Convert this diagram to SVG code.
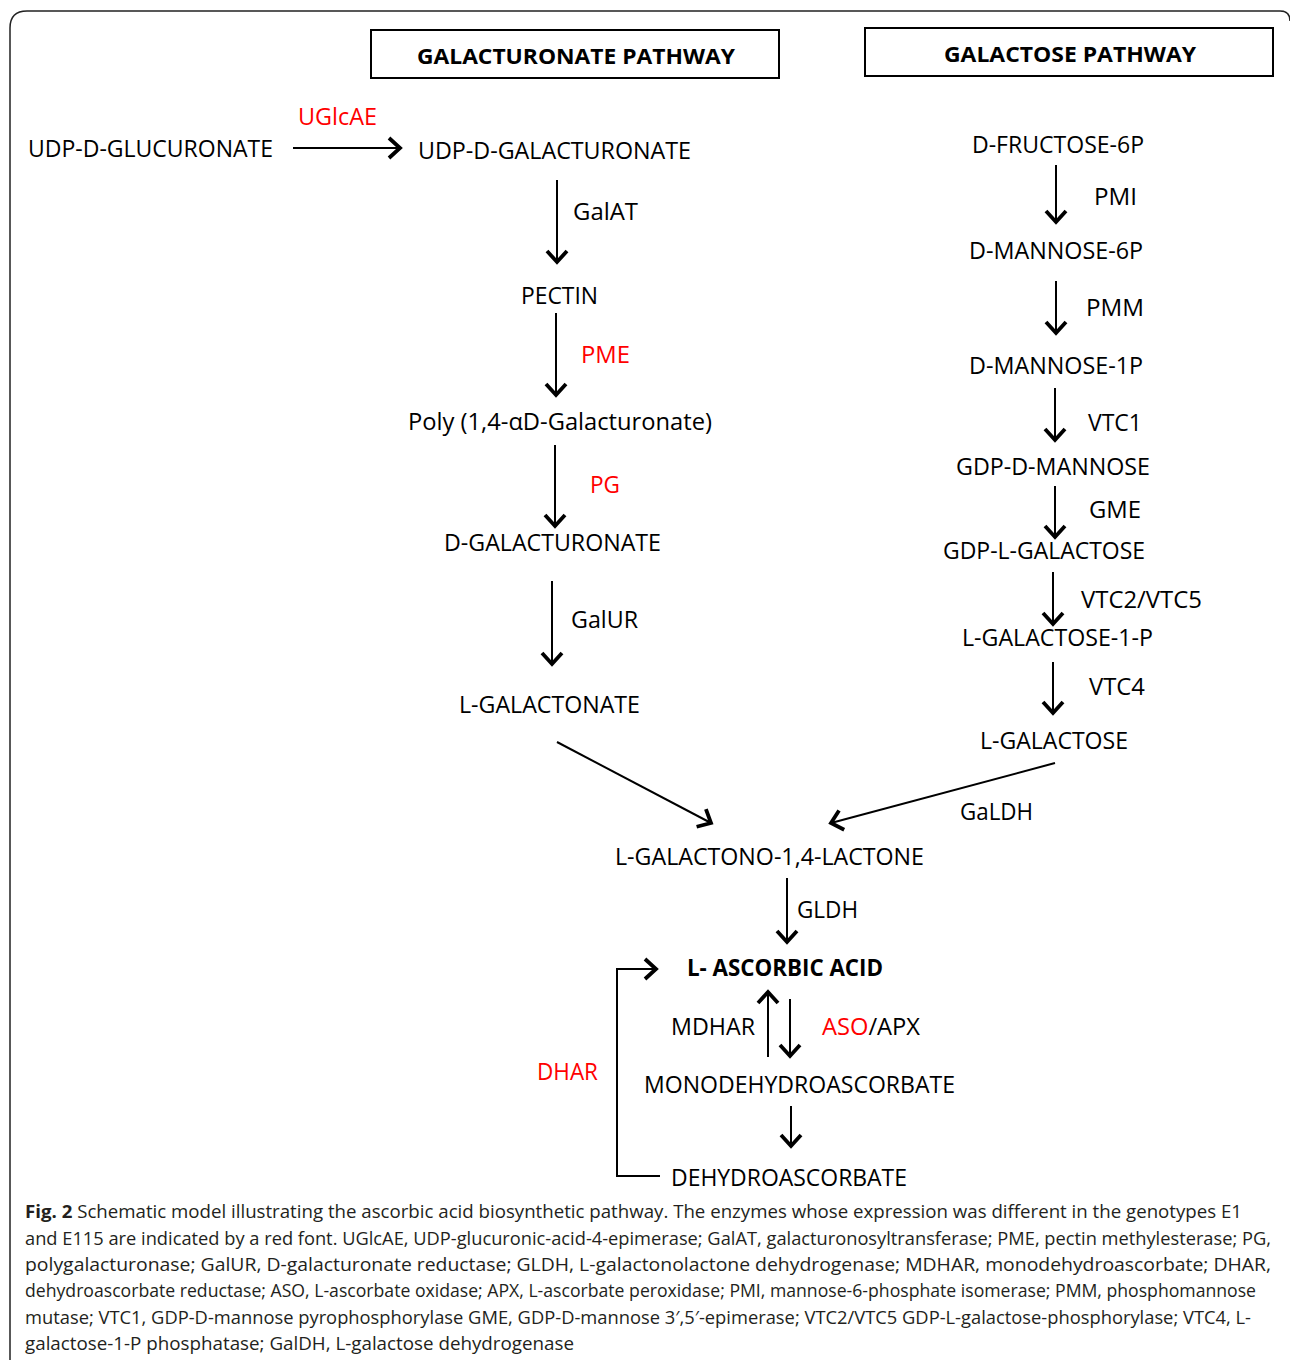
<svg xmlns="http://www.w3.org/2000/svg" width="1290" height="1360" viewBox="0 0 1290 1360">
<style>
.t{font-family:"Open Sans","Noto Sans","Liberation Sans",sans-serif;font-size:24px;fill:#000}
.r{fill:#ff0000}
.b{font-weight:bold}
.h{font-family:"Open Sans","Noto Sans","Liberation Sans",sans-serif;font-size:22px;font-weight:bold;fill:#000}
.c{font-family:"Open Sans","Noto Sans","Liberation Sans",sans-serif;font-size:17.5px;fill:#231f20}
.ln{fill:none;stroke:#000;stroke-width:2}
.box{fill:none;stroke:#000;stroke-width:2}
</style>
<defs>
<marker id="ah" markerUnits="userSpaceOnUse" viewBox="-14 -12 18 24" markerWidth="18" markerHeight="24" refX="0" refY="0" orient="auto" overflow="visible">
<path d="M-11,-10 L0,0 L-11,10" fill="none" stroke="#000" stroke-width="3.8"/>
</marker>
</defs>
<rect width="1290" height="1360" fill="#fff"/>
<path d="M10,1360 V28 Q10,11 27,11 H1280 Q1290,11 1290,21" fill="none" stroke="#222" stroke-width="1.5"/>

<g id="header-galacturonate"><rect class="box" x="371" y="30" width="408" height="48"/><text class="h" x="417" y="64" textLength="318" lengthAdjust="spacingAndGlyphs">GALACTURONATE PATHWAY</text></g>
<g id="header-galactose"><rect class="box" x="865" y="28" width="408" height="48"/><text class="h" x="944" y="62" textLength="252" lengthAdjust="spacingAndGlyphs">GALACTOSE PATHWAY</text></g>

<g id="connectors">
<path class="ln" marker-end="url(#ah)" d="M293,148 H400"/>
<path class="ln" marker-end="url(#ah)" d="M557,180 V262"/>
<path class="ln" marker-end="url(#ah)" d="M556,313 V395"/>
<path class="ln" marker-end="url(#ah)" d="M555,445 V526"/>
<path class="ln" marker-end="url(#ah)" d="M552,581 V664"/>
<path class="ln" marker-end="url(#ah)" d="M557,742 L711,823"/>
<path class="ln" marker-end="url(#ah)" d="M1056,165 V222"/>
<path class="ln" marker-end="url(#ah)" d="M1056,281 V333"/>
<path class="ln" marker-end="url(#ah)" d="M1055,388 V440"/>
<path class="ln" marker-end="url(#ah)" d="M1055,486 V537"/>
<path class="ln" marker-end="url(#ah)" d="M1053,572 V624"/>
<path class="ln" marker-end="url(#ah)" d="M1053,662 V713"/>
<path class="ln" marker-end="url(#ah)" d="M1055,763 L831,823"/>
<path class="ln" marker-end="url(#ah)" d="M787,878 V942"/>
<path class="ln" marker-end="url(#ah)" d="M660,1176 H617 V969 H656"/>
<path class="ln" marker-end="url(#ah)" d="M768,1057 V992"/>
<path class="ln" marker-end="url(#ah)" d="M790,999 V1056"/>
<path class="ln" marker-end="url(#ah)" d="M791,1106 V1146"/>
</g>

<g id="labels">
<text class="t r" x="298" y="125" textLength="79" lengthAdjust="spacingAndGlyphs">UGlcAE</text>
<text class="t" x="573" y="220" textLength="65" lengthAdjust="spacingAndGlyphs">GalAT</text>
<text class="t r" x="581" y="363" textLength="49" lengthAdjust="spacingAndGlyphs">PME</text>
<text class="t r" x="590" y="493" textLength="30" lengthAdjust="spacingAndGlyphs">PG</text>
<text class="t" x="571" y="628" textLength="67" lengthAdjust="spacingAndGlyphs">GalUR</text>
<text class="t" x="1094" y="205" textLength="43" lengthAdjust="spacingAndGlyphs">PMI</text>
<text class="t" x="1086" y="316" textLength="58" lengthAdjust="spacingAndGlyphs">PMM</text>
<text class="t" x="1088" y="431" textLength="54" lengthAdjust="spacingAndGlyphs">VTC1</text>
<text class="t" x="1089" y="518" textLength="52" lengthAdjust="spacingAndGlyphs">GME</text>
<text class="t" x="1081" y="608" textLength="121" lengthAdjust="spacingAndGlyphs">VTC2/VTC5</text>
<text class="t" x="1089" y="695" textLength="56" lengthAdjust="spacingAndGlyphs">VTC4</text>
<text class="t" x="960" y="820" textLength="73" lengthAdjust="spacingAndGlyphs">GaLDH</text>
<text class="t" x="797" y="918" textLength="61" lengthAdjust="spacingAndGlyphs">GLDH</text>
<text class="t r" x="537" y="1080" textLength="61" lengthAdjust="spacingAndGlyphs">DHAR</text>
<text class="t" x="671" y="1035" textLength="84" lengthAdjust="spacingAndGlyphs">MDHAR</text>
<text class="t" x="822" y="1035" textLength="98" lengthAdjust="spacingAndGlyphs"><tspan class="r">ASO</tspan>/APX</text>
</g>

<g id="n-udp-glucuronate"><text class="t" x="28" y="157" textLength="245" lengthAdjust="spacingAndGlyphs">UDP-D-GLUCURONATE</text></g>
<g id="n-udp-galacturonate"><text class="t" x="418" y="159" textLength="273" lengthAdjust="spacingAndGlyphs">UDP-D-GALACTURONATE</text></g>
<g id="n-pectin"><text class="t" x="521" y="304" textLength="77" lengthAdjust="spacingAndGlyphs">PECTIN</text></g>
<g id="n-poly"><text class="t" x="408" y="430" textLength="304" lengthAdjust="spacingAndGlyphs">Poly (1,4-αD-Galacturonate)</text></g>
<g id="n-d-galacturonate"><text class="t" x="444" y="551" textLength="217" lengthAdjust="spacingAndGlyphs">D-GALACTURONATE</text></g>
<g id="n-l-galactonate"><text class="t" x="459" y="713" textLength="181" lengthAdjust="spacingAndGlyphs">L-GALACTONATE</text></g>
<g id="n-fructose6p"><text class="t" x="972" y="153" textLength="172" lengthAdjust="spacingAndGlyphs">D-FRUCTOSE-6P</text></g>
<g id="n-mannose6p"><text class="t" x="969" y="259" textLength="174" lengthAdjust="spacingAndGlyphs">D-MANNOSE-6P</text></g>
<g id="n-mannose1p"><text class="t" x="969" y="374" textLength="174" lengthAdjust="spacingAndGlyphs">D-MANNOSE-1P</text></g>
<g id="n-gdp-mannose"><text class="t" x="956" y="475" textLength="194" lengthAdjust="spacingAndGlyphs">GDP-D-MANNOSE</text></g>
<g id="n-gdp-galactose"><text class="t" x="943" y="559" textLength="202" lengthAdjust="spacingAndGlyphs">GDP-L-GALACTOSE</text></g>
<g id="n-galactose1p"><text class="t" x="962" y="646" textLength="191" lengthAdjust="spacingAndGlyphs">L-GALACTOSE-1-P</text></g>
<g id="n-l-galactose"><text class="t" x="980" y="749" textLength="148" lengthAdjust="spacingAndGlyphs">L-GALACTOSE</text></g>
<g id="n-lactone"><text class="t" x="615" y="865" textLength="309" lengthAdjust="spacingAndGlyphs">L-GALACTONO-1,4-LACTONE</text></g>
<g id="n-ascorbic"><text class="t b" x="687" y="976" textLength="196" lengthAdjust="spacingAndGlyphs">L- ASCORBIC ACID</text></g>
<g id="n-mda"><text class="t" x="644" y="1093" textLength="311" lengthAdjust="spacingAndGlyphs">MONODEHYDROASCORBATE</text></g>
<g id="n-dha"><text class="t" x="671" y="1186" textLength="236" lengthAdjust="spacingAndGlyphs">DEHYDROASCORBATE</text></g>

<g id="caption">
<text class="c" x="25" y="1218" textLength="1217" lengthAdjust="spacingAndGlyphs"><tspan font-weight="bold">Fig. 2</tspan> Schematic model illustrating the ascorbic acid biosynthetic pathway. The enzymes whose expression was different in the genotypes E1</text>
<text class="c" x="25" y="1245" textLength="1246" lengthAdjust="spacingAndGlyphs">and E115 are indicated by a red font. UGlcAE, UDP-glucuronic-acid-4-epimerase; GalAT, galacturonosyltransferase; PME, pectin methylesterase; PG,</text>
<text class="c" x="25" y="1271" textLength="1246" lengthAdjust="spacingAndGlyphs">polygalacturonase; GalUR, D-galacturonate reductase; GLDH, L-galactonolactone dehydrogenase; MDHAR, monodehydroascorbate; DHAR,</text>
<text class="c" x="25" y="1297" textLength="1231" lengthAdjust="spacingAndGlyphs">dehydroascorbate reductase; ASO, L-ascorbate oxidase; APX, L-ascorbate peroxidase; PMI, mannose-6-phosphate isomerase; PMM, phosphomannose</text>
<text class="c" x="25" y="1324" textLength="1226" lengthAdjust="spacingAndGlyphs">mutase; VTC1, GDP-D-mannose pyrophosphorylase GME, GDP-D-mannose 3′,5′-epimerase; VTC2/VTC5 GDP-L-galactose-phosphorylase; VTC4, L-</text>
<text class="c" x="25" y="1350" textLength="549" lengthAdjust="spacingAndGlyphs">galactose-1-P phosphatase; GalDH, L-galactose dehydrogenase</text>
</g>
</svg>
